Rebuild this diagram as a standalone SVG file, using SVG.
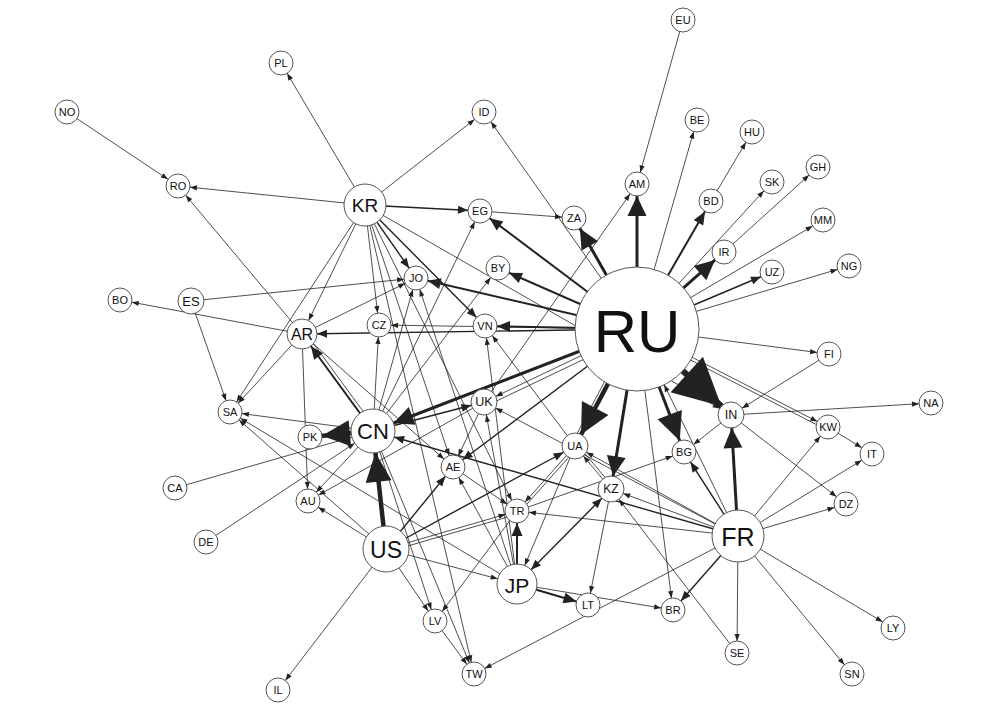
<svg xmlns="http://www.w3.org/2000/svg" width="1000" height="708" viewBox="0 0 1000 708">
<style>
.e{stroke:#222;fill:none}
.t{stroke-width:0.8}
.m{stroke-width:1.4}
.n{stroke-width:2}
.k{stroke-width:3}
.x{stroke-width:4.5}
.X{stroke-width:6}
.ah{fill:#222}
.nd circle{fill:#fff;stroke:#555;stroke-width:1}
.nd text{font-family:"Liberation Sans",Arial,sans-serif;text-anchor:middle;dominant-baseline:central;fill:#111;font-size:11px}
</style>
<defs>
<marker id="t12" markerUnits="userSpaceOnUse" orient="auto-start-reverse" refX="12" refY="0" markerWidth="1" markerHeight="1" overflow="visible"><path class="ah" d="M0 0L-7 -2.6L-7 2.6z"/></marker>
<marker id="t13" markerUnits="userSpaceOnUse" orient="auto-start-reverse" refX="13" refY="0" markerWidth="1" markerHeight="1" overflow="visible"><path class="ah" d="M0 0L-7 -2.6L-7 2.6z"/></marker>
<marker id="t15" markerUnits="userSpaceOnUse" orient="auto-start-reverse" refX="15" refY="0" markerWidth="1" markerHeight="1" overflow="visible"><path class="ah" d="M0 0L-7 -2.6L-7 2.6z"/></marker>
<marker id="t20" markerUnits="userSpaceOnUse" orient="auto-start-reverse" refX="20" refY="0" markerWidth="1" markerHeight="1" overflow="visible"><path class="ah" d="M0 0L-7 -2.6L-7 2.6z"/></marker>
<marker id="t22" markerUnits="userSpaceOnUse" orient="auto-start-reverse" refX="22" refY="0" markerWidth="1" markerHeight="1" overflow="visible"><path class="ah" d="M0 0L-7 -2.6L-7 2.6z"/></marker>
<marker id="t62" markerUnits="userSpaceOnUse" orient="auto-start-reverse" refX="62" refY="0" markerWidth="1" markerHeight="1" overflow="visible"><path class="ah" d="M0 0L-7 -2.6L-7 2.6z"/></marker>
<marker id="m12" markerUnits="userSpaceOnUse" orient="auto-start-reverse" refX="12" refY="0" markerWidth="1" markerHeight="1" overflow="visible"><path class="ah" d="M0 0L-10 -4L-10 4z"/></marker>
<marker id="m13" markerUnits="userSpaceOnUse" orient="auto-start-reverse" refX="13" refY="0" markerWidth="1" markerHeight="1" overflow="visible"><path class="ah" d="M0 0L-10 -4L-10 4z"/></marker>
<marker id="m15" markerUnits="userSpaceOnUse" orient="auto-start-reverse" refX="15" refY="0" markerWidth="1" markerHeight="1" overflow="visible"><path class="ah" d="M0 0L-10 -4L-10 4z"/></marker>
<marker id="m20" markerUnits="userSpaceOnUse" orient="auto-start-reverse" refX="20" refY="0" markerWidth="1" markerHeight="1" overflow="visible"><path class="ah" d="M0 0L-10 -4L-10 4z"/></marker>
<marker id="m22" markerUnits="userSpaceOnUse" orient="auto-start-reverse" refX="22" refY="0" markerWidth="1" markerHeight="1" overflow="visible"><path class="ah" d="M0 0L-10 -4L-10 4z"/></marker>
<marker id="n12" markerUnits="userSpaceOnUse" orient="auto-start-reverse" refX="12" refY="0" markerWidth="1" markerHeight="1" overflow="visible"><path class="ah" d="M0 0L-13 -5.5L-13 5.5z"/></marker>
<marker id="n15" markerUnits="userSpaceOnUse" orient="auto-start-reverse" refX="15" refY="0" markerWidth="1" markerHeight="1" overflow="visible"><path class="ah" d="M0 0L-13 -5.5L-13 5.5z"/></marker>
<marker id="k12" markerUnits="userSpaceOnUse" orient="auto-start-reverse" refX="12" refY="0" markerWidth="1" markerHeight="1" overflow="visible"><path class="ah" d="M0 0L-20 -9.5L-20 9.5z"/></marker>
<marker id="k13" markerUnits="userSpaceOnUse" orient="auto-start-reverse" refX="13" refY="0" markerWidth="1" markerHeight="1" overflow="visible"><path class="ah" d="M0 0L-20 -9.5L-20 9.5z"/></marker>
<marker id="k22" markerUnits="userSpaceOnUse" orient="auto-start-reverse" refX="22" refY="0" markerWidth="1" markerHeight="1" overflow="visible"><path class="ah" d="M0 0L-20 -9.5L-20 9.5z"/></marker>
<marker id="x12" markerUnits="userSpaceOnUse" orient="auto-start-reverse" refX="12" refY="0" markerWidth="1" markerHeight="1" overflow="visible"><path class="ah" d="M0 0L-28 -13L-28 13z"/></marker>
<marker id="x13" markerUnits="userSpaceOnUse" orient="auto-start-reverse" refX="13" refY="0" markerWidth="1" markerHeight="1" overflow="visible"><path class="ah" d="M0 0L-30 -15L-30 15z"/></marker>
<marker id="x22" markerUnits="userSpaceOnUse" orient="auto-start-reverse" refX="22" refY="0" markerWidth="1" markerHeight="1" overflow="visible"><path class="ah" d="M0 0L-29 -13L-29 13z"/></marker>
<marker id="X13" markerUnits="userSpaceOnUse" orient="auto-start-reverse" refX="13" refY="0" markerWidth="1" markerHeight="1" overflow="visible"><path class="ah" d="M0 0L-47 -24L-47 24z"/></marker>
</defs>
<rect width="1000" height="708" fill="#fff"/>
<g id="connectors">
<line class="e t" x1="67" y1="112" x2="178" y2="186" marker-end="url(#t12)"/>
<line class="e t" x1="365" y1="205" x2="178" y2="186" marker-end="url(#t12)"/>
<line class="e t" x1="365" y1="205" x2="281" y2="63" marker-end="url(#t12)"/>
<line class="e t" x1="365" y1="205" x2="484" y2="112" marker-end="url(#t12)"/>
<line class="e t" x1="480" y1="211" x2="574" y2="218" marker-end="url(#t12)"/>
<line class="e t" x1="683" y1="20" x2="637" y2="184" marker-end="url(#t12)"/>
<line class="e t" x1="484" y1="402" x2="637" y2="184" marker-end="url(#t12)"/>
<line class="e t" x1="637" y1="329" x2="484" y2="112" marker-end="url(#t12)"/>
<line class="e t" x1="637" y1="329" x2="379" y2="325" marker-end="url(#t12)"/>
<line class="e t" x1="637" y1="329" x2="697" y2="120" marker-end="url(#t12)"/>
<line class="e t" x1="711" y1="201" x2="752" y2="132" marker-end="url(#t12)"/>
<line class="e t" x1="724" y1="252" x2="818" y2="167" marker-end="url(#t12)"/>
<line class="e t" x1="637" y1="329" x2="772" y2="182" marker-end="url(#t12)"/>
<line class="e t" x1="637" y1="329" x2="823" y2="220" marker-end="url(#t12)"/>
<line class="e t" x1="637" y1="329" x2="849" y2="266" marker-end="url(#t12)"/>
<line class="e t" x1="637" y1="329" x2="829" y2="354" marker-end="url(#t12)"/>
<line class="e t" x1="365" y1="205" x2="731" y2="415" marker-end="url(#t13)"/>
<line class="e t" x1="637" y1="329" x2="828" y2="427" marker-end="url(#t12)"/>
<line class="e t" x1="636" y1="332" x2="827" y2="430"/>
<line class="e t" x1="637" y1="329" x2="673" y2="610" marker-end="url(#t12)"/>
<line class="e t" x1="637" y1="329" x2="484" y2="402" marker-end="url(#t13)"/>
<line class="e t" x1="639" y1="333" x2="486" y2="406"/>
<line class="e t" x1="738" y1="536" x2="637" y2="329" marker-end="url(#t62)"/>
<line class="e t" x1="365" y1="205" x2="379" y2="325" marker-end="url(#t12)"/>
<line class="e t" x1="365" y1="205" x2="302" y2="334" marker-end="url(#t15)"/>
<line class="e t" x1="365" y1="205" x2="230" y2="412" marker-end="url(#t12)"/>
<line class="e t" x1="365" y1="205" x2="453" y2="467" marker-end="url(#t12)"/>
<line class="e t" x1="365" y1="205" x2="517" y2="511" marker-end="url(#t12)"/>
<line class="e t" x1="365" y1="205" x2="474" y2="674" marker-end="url(#t12)"/>
<line class="e t" x1="373" y1="431" x2="480" y2="211" marker-end="url(#t12)"/>
<line class="e t" x1="373" y1="431" x2="498" y2="268" marker-end="url(#t12)"/>
<line class="e t" x1="373" y1="431" x2="416" y2="278" marker-end="url(#t12)"/>
<line class="e t" x1="373" y1="431" x2="379" y2="325" marker-end="url(#t12)"/>
<line class="e t" x1="191" y1="301" x2="416" y2="278" marker-end="url(#t12)"/>
<line class="e t" x1="302" y1="334" x2="416" y2="278" marker-end="url(#t12)"/>
<line class="e t" x1="517" y1="584" x2="416" y2="278" marker-end="url(#t12)"/>
<line class="e t" x1="517" y1="584" x2="485" y2="326" marker-end="url(#t12)"/>
<line class="e t" x1="575" y1="446" x2="485" y2="326" marker-end="url(#t12)"/>
<line class="e t" x1="191" y1="301" x2="230" y2="412" marker-end="url(#t12)"/>
<line class="e t" x1="302" y1="334" x2="120" y2="300" marker-end="url(#t12)"/>
<line class="e t" x1="302" y1="334" x2="178" y2="186" marker-end="url(#t12)"/>
<line class="e t" x1="302" y1="334" x2="230" y2="412" marker-end="url(#t12)"/>
<line class="e t" x1="302" y1="334" x2="308" y2="501" marker-end="url(#t12)"/>
<line class="e t" x1="302" y1="334" x2="453" y2="467" marker-end="url(#t12)"/>
<line class="e t" x1="376" y1="429" x2="305" y2="332"/>
<line class="e t" x1="373" y1="431" x2="230" y2="412" marker-end="url(#t12)"/>
<line class="e t" x1="373" y1="431" x2="308" y2="501" marker-end="url(#t12)"/>
<line class="e t" x1="373" y1="431" x2="474" y2="674" marker-end="url(#t12)"/>
<line class="e t" x1="373" y1="431" x2="435" y2="621" marker-end="url(#t12)"/>
<line class="e t" x1="175" y1="488" x2="373" y2="431" marker-end="url(#t22)"/>
<line class="e t" x1="206" y1="542" x2="373" y2="431" marker-end="url(#t22)"/>
<line class="e t" x1="386" y1="549" x2="517" y2="511" marker-end="url(#t12)"/>
<line class="e t" x1="387" y1="552" x2="518" y2="514"/>
<line class="e t" x1="386" y1="549" x2="308" y2="501" marker-end="url(#t12)"/>
<line class="e t" x1="386" y1="549" x2="230" y2="412" marker-end="url(#t12)"/>
<line class="e t" x1="386" y1="549" x2="278" y2="690" marker-end="url(#t12)"/>
<line class="e t" x1="386" y1="549" x2="435" y2="621" marker-end="url(#t12)"/>
<line class="e t" x1="386" y1="549" x2="517" y2="584" marker-end="url(#t20)"/>
<line class="e t" x1="484" y1="402" x2="453" y2="467" marker-end="url(#t12)"/>
<line class="e t" x1="484" y1="402" x2="308" y2="501" marker-end="url(#t12)"/>
<line class="e t" x1="517" y1="584" x2="484" y2="402" marker-end="url(#t13)"/>
<line class="e t" x1="738" y1="536" x2="484" y2="402" marker-end="url(#t13)"/>
<line class="e t" x1="517" y1="584" x2="453" y2="467" marker-end="url(#t12)"/>
<line class="e t" x1="453" y1="467" x2="517" y2="511" marker-end="url(#t12)"/>
<line class="e t" x1="575" y1="446" x2="517" y2="511" marker-end="url(#t12)"/>
<line class="e t" x1="577" y1="448" x2="519" y2="513"/>
<line class="e t" x1="738" y1="536" x2="517" y2="511" marker-end="url(#t12)"/>
<line class="e t" x1="517" y1="511" x2="684" y2="452" marker-end="url(#t12)"/>
<line class="e t" x1="517" y1="511" x2="435" y2="621" marker-end="url(#t12)"/>
<line class="e t" x1="575" y1="446" x2="517" y2="584" marker-end="url(#t20)"/>
<line class="e t" x1="611" y1="489" x2="575" y2="446" marker-end="url(#t13)"/>
<line class="e t" x1="613" y1="487" x2="577" y2="444"/>
<line class="e t" x1="738" y1="536" x2="611" y2="489" marker-end="url(#t13)"/>
<line class="e t" x1="738" y1="536" x2="575" y2="446" marker-end="url(#t13)"/>
<line class="e t" x1="611" y1="489" x2="588" y2="605" marker-end="url(#t12)"/>
<line class="e t" x1="737" y1="653" x2="611" y2="489" marker-end="url(#t13)"/>
<line class="e t" x1="731" y1="415" x2="684" y2="452" marker-end="url(#t12)"/>
<line class="e t" x1="731" y1="415" x2="931" y2="403" marker-end="url(#t12)"/>
<line class="e t" x1="731" y1="415" x2="846" y2="504" marker-end="url(#t12)"/>
<line class="e t" x1="829" y1="354" x2="731" y2="415" marker-end="url(#t13)"/>
<line class="e t" x1="738" y1="536" x2="828" y2="427" marker-end="url(#t12)"/>
<line class="e t" x1="828" y1="427" x2="872" y2="454" marker-end="url(#t12)"/>
<line class="e t" x1="738" y1="536" x2="872" y2="454" marker-end="url(#t12)"/>
<line class="e t" x1="738" y1="536" x2="846" y2="504" marker-end="url(#t12)"/>
<line class="e t" x1="517" y1="584" x2="673" y2="610" marker-end="url(#t12)"/>
<line class="e t" x1="738" y1="536" x2="893" y2="628" marker-end="url(#t12)"/>
<line class="e t" x1="738" y1="536" x2="852" y2="674" marker-end="url(#t12)"/>
<line class="e t" x1="738" y1="536" x2="737" y2="653" marker-end="url(#t12)"/>
<line class="e t" x1="738" y1="536" x2="474" y2="674" marker-end="url(#t12)"/>
<line class="e t" x1="435" y1="621" x2="474" y2="674" marker-end="url(#t12)"/>
<line class="e t" x1="517" y1="584" x2="230" y2="412" marker-end="url(#t12)"/>
<line class="e t" x1="633.5" y1="327" x2="571.5" y2="444"/>
<line class="e m" x1="365" y1="205" x2="480" y2="211" marker-end="url(#m12)"/>
<line class="e m" x1="637" y1="329" x2="302" y2="334" marker-end="url(#m15)"/>
<line class="e m" x1="637" y1="329" x2="772" y2="272" marker-end="url(#m12)"/>
<line class="e m" x1="637" y1="329" x2="453" y2="467" marker-end="url(#m12)"/>
<line class="e m" x1="365" y1="205" x2="416" y2="278" marker-end="url(#m12)"/>
<line class="e m" x1="365" y1="205" x2="485" y2="326" marker-end="url(#m12)"/>
<line class="e m" x1="373" y1="431" x2="484" y2="402" marker-end="url(#m13)"/>
<line class="e m" x1="738" y1="536" x2="373" y2="431" marker-end="url(#m22)"/>
<line class="e m" x1="386" y1="549" x2="453" y2="467" marker-end="url(#m12)"/>
<line class="e m" x1="386" y1="549" x2="575" y2="446" marker-end="url(#m13)"/>
<line class="e m" x1="517" y1="584" x2="611" y2="489" marker-start="url(#m20)" marker-end="url(#m13)"/>
<line class="e m" x1="738" y1="536" x2="684" y2="452" marker-end="url(#m12)"/>
<line class="e m" x1="738" y1="536" x2="673" y2="610" marker-end="url(#m12)"/>
<line class="e n" x1="637" y1="329" x2="480" y2="211" marker-end="url(#n12)"/>
<line class="e n" x1="637" y1="329" x2="498" y2="268" marker-end="url(#n12)"/>
<line class="e n" x1="637" y1="329" x2="416" y2="278" marker-end="url(#n12)"/>
<line class="e n" x1="637" y1="329" x2="485" y2="326" marker-end="url(#n12)"/>
<line class="e n" x1="637" y1="329" x2="711" y2="201" marker-end="url(#n12)"/>
<line class="e n" x1="517" y1="584" x2="517" y2="511" marker-end="url(#n12)"/>
<line class="e n" x1="517" y1="584" x2="588" y2="605" marker-end="url(#n12)"/>
<line class="e n" x1="373" y1="431" x2="302" y2="334" marker-end="url(#n15)"/>
<line class="e k" x1="637" y1="329" x2="637" y2="184" marker-end="url(#k12)"/>
<line class="e k" x1="637" y1="329" x2="574" y2="218" marker-end="url(#k12)"/>
<line class="e k" x1="637" y1="329" x2="724" y2="252" marker-end="url(#k12)"/>
<line class="e k" x1="637" y1="329" x2="611" y2="489" marker-end="url(#k13)"/>
<line class="e k" x1="637" y1="329" x2="373" y2="431" marker-end="url(#k22)"/>
<line class="e k" x1="738" y1="536" x2="731" y2="415" marker-end="url(#k13)"/>
<line class="e k" x1="637" y1="329" x2="684" y2="452" marker-end="url(#x12)"/>
<line class="e x" x1="637" y1="329" x2="575" y2="446" marker-end="url(#x13)"/>
<line class="e x" x1="386" y1="549" x2="373" y2="431" marker-end="url(#x22)"/>
<line class="e x" x1="373" y1="431" x2="310" y2="437" marker-end="url(#x12)"/>
<line class="e X" x1="637" y1="329" x2="731" y2="415" marker-end="url(#X13)"/>
</g>
<g class="nd">
<g id="n-EU"><circle cx="683" cy="20" r="12"/><text x="683" y="20">EU</text></g>
<g id="n-PL"><circle cx="281" cy="63" r="12"/><text x="281" y="63">PL</text></g>
<g id="n-NO"><circle cx="67" cy="112" r="12"/><text x="67" y="112">NO</text></g>
<g id="n-ID"><circle cx="484" cy="112" r="12"/><text x="484" y="112">ID</text></g>
<g id="n-BE"><circle cx="697" cy="120" r="12"/><text x="697" y="120">BE</text></g>
<g id="n-HU"><circle cx="752" cy="132" r="12"/><text x="752" y="132">HU</text></g>
<g id="n-GH"><circle cx="818" cy="167" r="12"/><text x="818" y="167">GH</text></g>
<g id="n-SK"><circle cx="772" cy="182" r="12"/><text x="772" y="182">SK</text></g>
<g id="n-RO"><circle cx="178" cy="186" r="12"/><text x="178" y="186">RO</text></g>
<g id="n-AM"><circle cx="637" cy="184" r="12"/><text x="637" y="184">AM</text></g>
<g id="n-BD"><circle cx="711" cy="201" r="12"/><text x="711" y="201">BD</text></g>
<g id="n-KR"><circle cx="365" cy="205" r="21"/><text x="365" y="205" style="font-size:19px">KR</text></g>
<g id="n-EG"><circle cx="480" cy="211" r="12"/><text x="480" y="211">EG</text></g>
<g id="n-ZA"><circle cx="574" cy="218" r="12"/><text x="574" y="218">ZA</text></g>
<g id="n-MM"><circle cx="823" cy="220" r="12"/><text x="823" y="220">MM</text></g>
<g id="n-IR"><circle cx="724" cy="252" r="12"/><text x="724" y="252">IR</text></g>
<g id="n-NG"><circle cx="849" cy="266" r="12"/><text x="849" y="266">NG</text></g>
<g id="n-BY"><circle cx="498" cy="268" r="12"/><text x="498" y="268">BY</text></g>
<g id="n-UZ"><circle cx="772" cy="272" r="12"/><text x="772" y="272">UZ</text></g>
<g id="n-JO"><circle cx="416" cy="278" r="12"/><text x="416" y="278">JO</text></g>
<g id="n-BO"><circle cx="120" cy="300" r="12"/><text x="120" y="300">BO</text></g>
<g id="n-ES"><circle cx="191" cy="301" r="13"/><text x="191" y="301" style="font-size:13px">ES</text></g>
<g id="n-CZ"><circle cx="379" cy="325" r="12"/><text x="379" y="325">CZ</text></g>
<g id="n-VN"><circle cx="485" cy="326" r="12"/><text x="485" y="326">VN</text></g>
<g id="n-AR"><circle cx="302" cy="334" r="15"/><text x="302" y="334" style="font-size:16px">AR</text></g>
<g id="n-RU"><circle cx="637" cy="329" r="62"/><text x="637" y="331" style="font-size:60px">RU</text></g>
<g id="n-FI"><circle cx="829" cy="354" r="12"/><text x="829" y="354">FI</text></g>
<g id="n-NA"><circle cx="931" cy="403" r="12"/><text x="931" y="403">NA</text></g>
<g id="n-UK"><circle cx="484" cy="402" r="13"/><text x="484" y="402" style="font-size:12.5px">UK</text></g>
<g id="n-SA"><circle cx="230" cy="412" r="12"/><text x="230" y="412">SA</text></g>
<g id="n-IN"><circle cx="731" cy="415" r="13"/><text x="731" y="415" style="font-size:12.5px">IN</text></g>
<g id="n-KW"><circle cx="828" cy="427" r="12"/><text x="828" y="427">KW</text></g>
<g id="n-CN"><circle cx="373" cy="431" r="22"/><text x="373" y="431" style="font-size:22px">CN</text></g>
<g id="n-PK"><circle cx="310" cy="437" r="12"/><text x="310" y="437">PK</text></g>
<g id="n-UA"><circle cx="575" cy="446" r="13"/><text x="575" y="446">UA</text></g>
<g id="n-BG"><circle cx="684" cy="452" r="12"/><text x="684" y="452">BG</text></g>
<g id="n-IT"><circle cx="872" cy="454" r="12"/><text x="872" y="454">IT</text></g>
<g id="n-AE"><circle cx="453" cy="467" r="12"/><text x="453" y="467">AE</text></g>
<g id="n-KZ"><circle cx="611" cy="489" r="13"/><text x="611" y="489" style="font-size:12px">KZ</text></g>
<g id="n-CA"><circle cx="175" cy="488" r="12"/><text x="175" y="488">CA</text></g>
<g id="n-AU"><circle cx="308" cy="501" r="12"/><text x="308" y="501">AU</text></g>
<g id="n-DZ"><circle cx="846" cy="504" r="12"/><text x="846" y="504">DZ</text></g>
<g id="n-TR"><circle cx="517" cy="511" r="12"/><text x="517" y="511">TR</text></g>
<g id="n-FR"><circle cx="738" cy="536" r="26"/><text x="738" y="537" style="font-size:25px">FR</text></g>
<g id="n-DE"><circle cx="206" cy="542" r="12"/><text x="206" y="542">DE</text></g>
<g id="n-US"><circle cx="386" cy="549" r="23"/><text x="386" y="550" style="font-size:23px">US</text></g>
<g id="n-JP"><circle cx="517" cy="584" r="20"/><text x="517" y="585" style="font-size:21px">JP</text></g>
<g id="n-LT"><circle cx="588" cy="605" r="12"/><text x="588" y="605">LT</text></g>
<g id="n-BR"><circle cx="673" cy="610" r="12"/><text x="673" y="610">BR</text></g>
<g id="n-LV"><circle cx="435" cy="621" r="12"/><text x="435" y="621">LV</text></g>
<g id="n-LY"><circle cx="893" cy="628" r="12"/><text x="893" y="628">LY</text></g>
<g id="n-SE"><circle cx="737" cy="653" r="12"/><text x="737" y="653">SE</text></g>
<g id="n-SN"><circle cx="852" cy="674" r="12"/><text x="852" y="674">SN</text></g>
<g id="n-TW"><circle cx="474" cy="674" r="12"/><text x="474" y="674">TW</text></g>
<g id="n-IL"><circle cx="278" cy="690" r="12"/><text x="278" y="690">IL</text></g>
</g>
</svg>
